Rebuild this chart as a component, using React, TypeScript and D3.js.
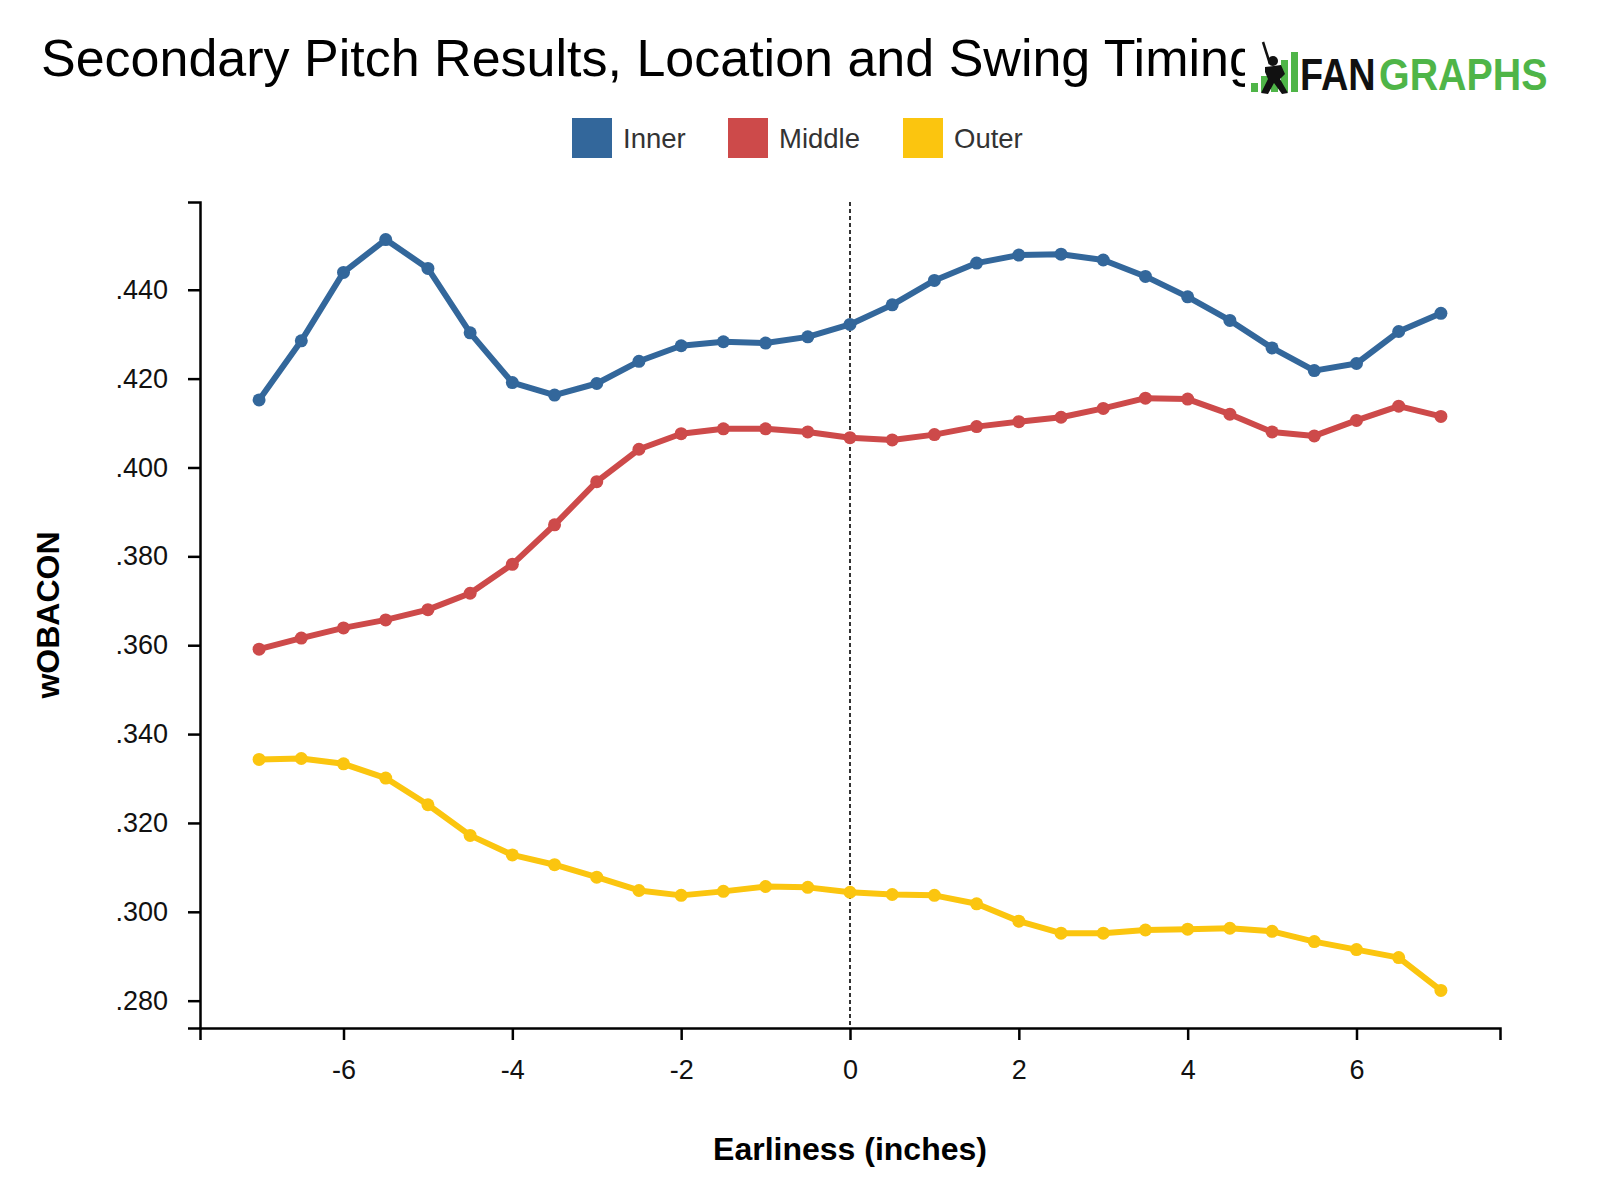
import { useRef, useEffect } from "react";
import * as d3 from "d3";

// earliness in inches
const EARLINESS = [
  -7, -6.5, -6, -5.5, -5, -4.5, -4, -3.5, -3, -2.5, -2, -1.5, -1, -0.5, 0,
  0.5, 1, 1.5, 2, 2.5, 3, 3.5, 4, 4.5, 5, 5.5, 6, 6.5, 7,
];

const INNER = [
  0.4152, 0.4285, 0.4439, 0.4513, 0.4448, 0.4303, 0.4191, 0.4163, 0.4189, 0.4239,
  0.4274, 0.4283, 0.428, 0.4294, 0.4322, 0.4366, 0.4421, 0.446, 0.4478, 0.448,
  0.4467, 0.443, 0.4384, 0.4331, 0.4269, 0.4218, 0.4234, 0.4306, 0.4347,
];

const MIDDLE = [
  0.3591, 0.3616, 0.3639, 0.3657, 0.368, 0.3717, 0.3782, 0.3871, 0.3968, 0.4041,
  0.4076, 0.4087, 0.4087, 0.408, 0.4067, 0.4062, 0.4074, 0.4092, 0.4103, 0.4113,
  0.4133, 0.4156, 0.4154, 0.412, 0.408, 0.4071, 0.4106, 0.4138, 0.4115,
];

const OUTER = [
  0.3343, 0.3345, 0.3333, 0.3301, 0.3241, 0.3172, 0.3128, 0.3106, 0.3078, 0.3048,
  0.3037, 0.3046, 0.3057, 0.3055, 0.3044, 0.3039, 0.3037, 0.3018, 0.2979, 0.2952,
  0.2952, 0.2959, 0.2961, 0.2963, 0.2956, 0.2933, 0.2915, 0.2897, 0.2823,
];

const SERIES_NAMES = ["Inner", "Middle", "Outer"];
const SERIES_VALUES = [INNER, MIDDLE, OUTER];
const COLORS = ["#33679b", "#cd4a4a", "#fbc50f"];

const TITLE = "Secondary Pitch Results, Location and Swing Timing";
const X_LABEL = "Earliness (inches)";
const Y_LABEL = "wOBACON";

const FONT = "'Liberation Sans', Arial, Helvetica, sans-serif";

function padded(ext: [number, number], f: number): [number, number] {
  const span = ext[1] - ext[0];
  return [ext[0] - span * f, ext[1] + span * f];
}

export default function App() {
  const svgRef = useRef<SVGSVGElement>(null);

  useEffect(() => {
    if (!svgRef.current) return;
    const svg = d3.select(svgRef.current);
    svg.selectAll("*").remove();

    const width = 1600;
    const height = 1200;
    const margin = { left: 200, right: 100, top: 202, bottom: 172 };
    const innerW = width - margin.left - margin.right;
    const innerH = height - margin.top - margin.bottom;

    svg.attr("width", width).attr("height", height).style("font-family", FONT);

    svg.append("rect").attr("width", width).attr("height", height).attr("fill", "#fff");

    const allValues = SERIES_VALUES.flat();
    const x = d3
      .scaleLinear()
      .domain(padded(d3.extent(EARLINESS) as [number, number], 0.05))
      .range([0, innerW]);
    const y = d3
      .scaleLinear()
      .domain(padded(d3.extent(allValues) as [number, number], 0.05))
      .range([innerH, 0]);

    const g = svg.append("g").attr("transform", `translate(${margin.left},${margin.top})`);

    // zero line
    g.append("line")
      .attr("x1", x(0))
      .attr("x2", x(0))
      .attr("y1", 0)
      .attr("y2", innerH)
      .attr("stroke", "#000")
      .attr("stroke-width", 1.6)
      .attr("stroke-dasharray", "4,3");

    // axes
    const yAxis = g
      .append("g")
      .call(
        d3
          .axisLeft(y)
          .tickSize(12)
          .tickPadding(20)
          .tickFormat((d) => d3.format(".3f")(d as number).replace(/^0/, ""))
      );
    const xAxis = g
      .append("g")
      .attr("transform", `translate(0,${innerH})`)
      .call(
        d3
          .axisBottom(x)
          .tickSize(12)
          .tickPadding(20)
          .tickFormat((d) => String(d))
      );
    [yAxis, xAxis].forEach((ax) => {
      ax.selectAll("path,line").attr("stroke", "#000").attr("stroke-width", 2.5);
      ax.selectAll("text")
        .attr("fill", "#111")
        .style("font-size", "27px")
        .style("font-family", FONT);
    });

    // lines and dots
    const line = d3
      .line<number>()
      .x((_, i) => x(EARLINESS[i]))
      .y((d) => y(d));

    SERIES_VALUES.forEach((vals, si) => {
      g.append("path")
        .attr("d", line(vals) || "")
        .attr("fill", "none")
        .attr("stroke", COLORS[si])
        .attr("stroke-width", 6)
        .attr("stroke-linejoin", "round");
      g.selectAll(`.dot-${si}`)
        .data(vals)
        .enter()
        .append("circle")
        .attr("class", `dot-${si}`)
        .attr("cx", (_, i) => x(EARLINESS[i]))
        .attr("cy", (d) => y(d))
        .attr("r", 6.5)
        .attr("fill", COLORS[si]);
    });

    // axis titles
    svg.append("text")
      .attr("x", margin.left + innerW / 2)
      .attr("y", 1160)
      .attr("text-anchor", "middle")
      .style("font-size", "32px")
      .style("font-weight", "bold")
      .attr("fill", "#000")
      .text(X_LABEL);

    svg.append("text")
      .attr("transform", `translate(59,${margin.top + innerH / 2}) rotate(-90)`)
      .attr("text-anchor", "middle")
      .style("font-size", "32px")
      .style("font-weight", "bold")
      .attr("fill", "#000")
      .text(Y_LABEL);

    // legend
    const legendX = [572, 728, 903];
    SERIES_NAMES.forEach((name, i) => {
      const lg = svg.append("g").attr("transform", `translate(${legendX[i]},118)`);
      lg.append("rect").attr("width", 40).attr("height", 40).attr("fill", COLORS[i]);
      lg.append("text")
        .attr("x", 51)
        .attr("y", 30)
        .style("font-size", "27.5px")
        .attr("fill", "#333")
        .text(name);
    });

    // title
    svg.append("text")
      .attr("x", 41)
      .attr("y", 76)
      .style("font-size", "52px")
      .attr("fill", "#000")
      .text(TITLE);

    // logo (covers the end of the title)
    const logo = svg.append("g");
    logo.append("rect").attr("x", 1245).attr("y", 28).attr("width", 330).attr("height", 75).attr("fill", "#fff");
    const green = "#4fb548";
    const bars = [
      { x: 1251, top: 83, w: 7 },
      { x: 1261, top: 76, w: 7 },
      { x: 1271, top: 68, w: 7 },
      { x: 1281, top: 60, w: 7 },
      { x: 1291, top: 52, w: 7 },
    ];
    bars.forEach((b) =>
      logo.append("rect").attr("x", b.x).attr("y", b.top).attr("width", b.w).attr("height", 92 - b.top).attr("fill", green)
    );
    // batter silhouette
    logo.append("circle").attr("cx", 1273).attr("cy", 61).attr("r", 5).attr("fill", "#111");
    logo.append("line")
      .attr("x1", 1270).attr("y1", 64).attr("x2", 1263).attr("y2", 42)
      .attr("stroke", "#111").attr("stroke-width", 2.5);
    logo.append("path")
      .attr("d", "M1265,67 L1281,65 L1285,74 L1280,79 L1288,93 L1282,94 L1274,83 L1268,94 L1261,93 L1268,79 L1265,72 Z")
      .attr("fill", "#111");
    logo.append("g")
      .attr("transform", "translate(1300,90) scale(0.86,1)")
      .append("text")
      .style("font-size", "44px")
      .style("font-weight", "bold")
      .attr("fill", "#111")
      .text("FAN");
    logo.append("g")
      .attr("transform", "translate(1379,90) scale(0.895,1)")
      .append("text")
      .style("font-size", "44px")
      .style("font-weight", "bold")
      .attr("fill", green)
      .text("GRAPHS");
  }, []);

  return <svg ref={svgRef} style={{ position: "absolute", left: 0, top: 0 }} />;
}
